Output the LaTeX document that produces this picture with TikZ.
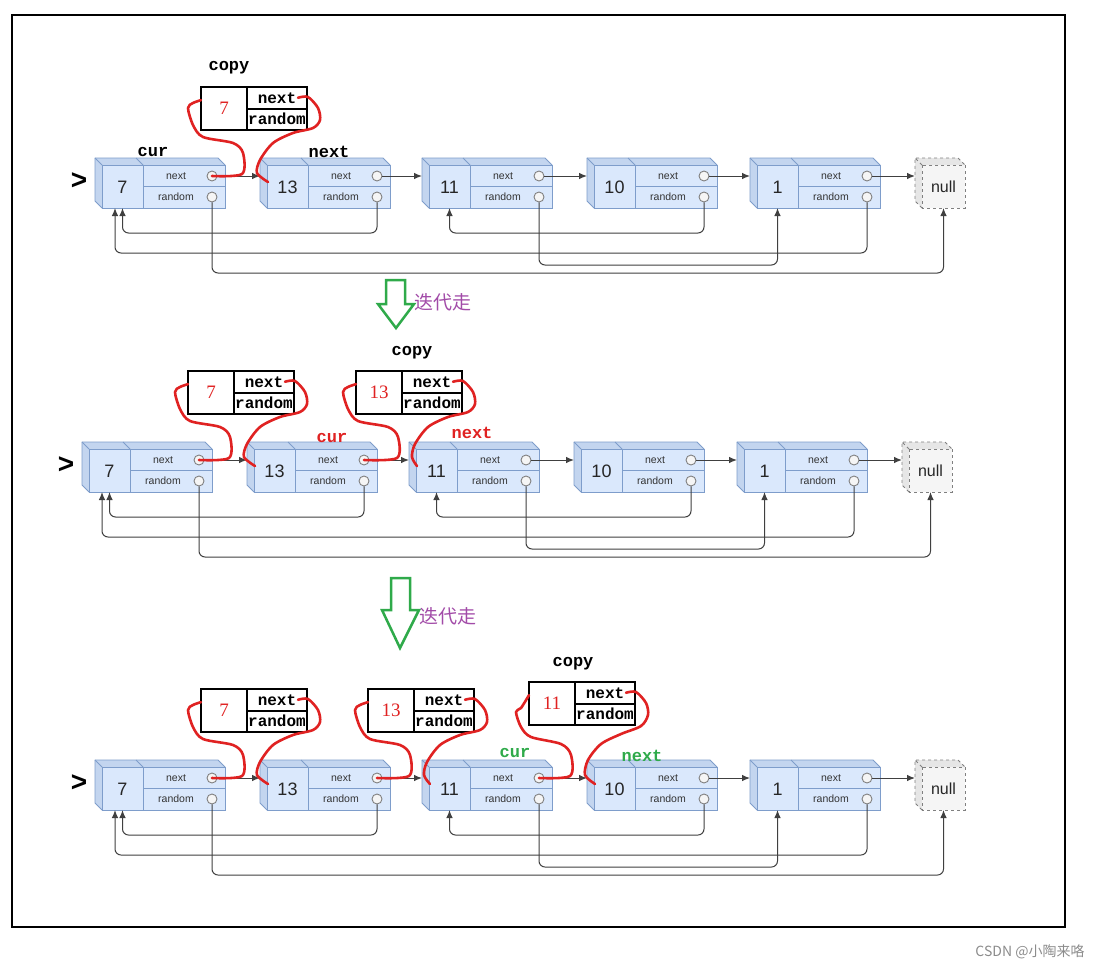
\documentclass[tikz,border=0pt]{standalone}
\usepackage{fontspec}
\setmainfont{Liberation Serif}
\setsansfont{Liberation Sans}
\setmonofont{Liberation Mono}
\newfontfamily\cjk{Noto Sans CJK SC}
\usetikzlibrary{positioning,arrows.meta}

\definecolor{cubefront}{HTML}{DAE8FC}
\definecolor{cubeside}{HTML}{C3D5EF}
\definecolor{cubeedge}{HTML}{7E9DCB}
\definecolor{nullfront}{HTML}{F5F5F5}
\definecolor{nullside}{HTML}{E6E6E6}
\definecolor{redpen}{HTML}{E02222}
\definecolor{greenpen}{HTML}{2FAA4A}
\definecolor{iterpurple}{HTML}{A24BA8}
\definecolor{ptrgray}{HTML}{404040}

\tikzset{
  pics/listnode/.style={code={
    \fill[cubeside] (0,0) -- (-7,-7) -- (116,-7) -- (123,0) -- cycle;
    \fill[cubeside] (0,0) -- (-7,-7) -- (-7,36) -- (0,43) -- cycle;
    \draw[cubeedge,line width=0.9pt,line join=round] (0,43) -- (-7,36) -- (-7,-7) -- (116,-7) -- (123,0);
    \draw[cubeedge,line width=0.9pt] (0,0) -- (-7,-7) (41,0) -- (34,-7);
    \draw[cubeedge,line width=0.9pt,fill=cubefront] (0,0) rectangle (123,43);
    \draw[cubeedge,line width=0.9pt] (41,0) -- (41,43) (41,21.5) -- (123,21.5);
    \node[valtext] (-v) at (20.5,22) {#1};
    \node[fieldtext] (-nt) at (74,11) {next};
    \node[fieldtext] (-rt) at (74,32) {random};
    \node[ptrdot] (-n) at (110,11) {};
    \node[ptrdot] (-r) at (110,32) {};
    \coordinate (-in) at (-7,11);
    \coordinate (-tip) at (1,17);
    \coordinate (-b) at (20.5,43);
    \coordinate (-bb) at (13,43);
  }},
  pics/nullnode/.style={code={
    \fill[nullside] (0,0) -- (-7,-7) -- (36,-7) -- (43,0) -- cycle;
    \fill[nullside] (0,0) -- (-7,-7) -- (-7,36) -- (0,43) -- cycle;
    \draw[gray,dashed,line width=0.9pt] (0,43) -- (-7,36) -- (-7,-7) -- (36,-7) -- (43,0) (0,0) -- (-7,-7);
    \draw[gray,dashed,line width=0.9pt,fill=nullfront] (0,0) rectangle (43,43);
    \node[valtext,font=\sffamily\fontsize{16}{16}\selectfont] (-v) at (21.5,22) {null};
    \coordinate (-in) at (-7,11);
    \coordinate (-b) at (21.5,43);
  }},
}

\begin{document}
\begin{tikzpicture}[x=1pt,y=-1pt,
    valtext/.style={font=\sffamily\fontsize{18}{18}\selectfont,text=black!85},
    fieldtext/.style={font=\sffamily\fontsize{10.5}{10.5}\selectfont,text=black!80},
    ptrdot/.style={circle,draw=gray,fill=gray!8,line width=0.9pt,minimum size=10pt,inner sep=0pt},
    ptr/.style={draw=ptrgray,line width=1pt,rounded corners=6pt,-{Latex[length=8pt,width=6.5pt]}},
    copyval/.style={draw,line width=2pt,minimum width=46pt,minimum height=43pt,inner sep=0pt,outer sep=0pt,
      text=redpen,font=\rmfamily\fontsize{19}{19}\selectfont},
    copyfld/.style={draw,line width=2pt,minimum width=60pt,minimum height=21.5pt,inner sep=0pt,outer sep=0pt,
      font=\ttfamily\bfseries\fontsize{16}{16}\selectfont},
    lbl/.style={font=\ttfamily\bfseries\fontsize{17}{17}\selectfont},
    redmark/.style={draw=redpen,line width=2.6pt,line cap=round,line join=round},
    iterarrow/.style={draw=greenpen,line width=2.5pt,line join=miter},
    iterlbl/.style={font=\cjk\fontsize{19}{19}\selectfont,text=iterpurple},
    headmark/.style={font=\sffamily\bfseries\fontsize{28}{28}\selectfont}]
  \fill[white] (0,0) rectangle (1114,970);
  \useasboundingbox (0,0) rectangle (1114,970);
  \draw[line width=2pt] (12,15) rectangle (1065,927);

  % first list
  \node[headmark] (h1) at (79,181) {>};
  \pic (r1a) at (102,165) {listnode=7};
  \pic (r1b) at (267,165) {listnode=13};
  \pic (r1c) at (429,165) {listnode=11};
  \pic (r1d) at (594,165) {listnode=10};
  \pic (r1e) at (757,165) {listnode=1};
  \pic (r1x) at (922,165) {nullnode};
  \draw[ptr] (r1a-n) -- (r1b-in);
  \draw[ptr] (r1b-n) -- (r1c-in);
  \draw[ptr] (r1c-n) -- (r1d-in);
  \draw[ptr] (r1d-n) -- (r1e-in);
  \draw[ptr] (r1e-n) -- (r1x-in);
  \draw[ptr] (r1b-r) -- ++(0,36) -| (r1a-b);
  \draw[ptr] (r1d-r) -- ++(0,36) -| (r1c-b);
  \draw[ptr] (r1e-r) -- ++(0,56) -| (r1a-bb);
  \draw[ptr] (r1c-r) -- ++(0,68) -| (r1e-b);
  \draw[ptr] (r1a-r) -- ++(0,76) -| (r1x-b);

  \node[lbl] (cp1) at (229,68) {copy};
  \node[lbl] (cur1) at (153,152) {cur};
  \node[lbl] (nx1) at (329,152) {next};
  \node[copyval] (c1a) at (224,108.5) {7};
  \node[copyfld,anchor=north west] (c1an) at (c1a.north east) {next};
  \node[copyfld,anchor=north west] (c1ar) at (c1an.south west) {random};
  \begin{scope}[shift={(201,87)}]
    \draw[redmark] plot[smooth] coordinates {(r1a-n.center) (41,87) (42,66) (32,56) (2,50) (-8,38) (-13,21) (-8,16) (c1a.160)};
    \draw[redmark] plot[smooth] coordinates {([xshift=-9pt]c1an.east) (107,10) (117,21) (119,33) (112,41) (92,46) (72,56) (59,73) (56,86) (r1b-tip)};
  \end{scope}

  \draw[iterarrow] (386,280) -- (405,280) -- (405,304) -- (414,304) -- (396,328) -- (378,304) -- (386,304) -- cycle;
  \node[iterlbl] (it1) at (443,302) {迭代走};

  % second list
  \node[headmark] (h2) at (66,465) {>};
  \pic (r2a) at (89,449) {listnode=7};
  \pic (r2b) at (254,449) {listnode=13};
  \pic (r2c) at (416,449) {listnode=11};
  \pic (r2d) at (581,449) {listnode=10};
  \pic (r2e) at (744,449) {listnode=1};
  \pic (r2x) at (909,449) {nullnode};
  \draw[ptr] (r2a-n) -- (r2b-in);
  \draw[ptr] (r2b-n) -- (r2c-in);
  \draw[ptr] (r2c-n) -- (r2d-in);
  \draw[ptr] (r2d-n) -- (r2e-in);
  \draw[ptr] (r2e-n) -- (r2x-in);
  \draw[ptr] (r2b-r) -- ++(0,36) -| (r2a-b);
  \draw[ptr] (r2d-r) -- ++(0,36) -| (r2c-b);
  \draw[ptr] (r2e-r) -- ++(0,56) -| (r2a-bb);
  \draw[ptr] (r2c-r) -- ++(0,68) -| (r2e-b);
  \draw[ptr] (r2a-r) -- ++(0,76) -| (r2x-b);

  \node[lbl] (cp2) at (412,353) {copy};
  \node[lbl,text=redpen] (cur2) at (332,438) {cur};
  \node[lbl,text=redpen] (nx2) at (472,433) {next};
  \node[copyval] (c2a) at (211,392.5) {7};
  \node[copyfld,anchor=north west] (c2an) at (c2a.north east) {next};
  \node[copyfld,anchor=north west] (c2ar) at (c2an.south west) {random};
  \node[copyval] (c2b) at (379,392.5) {13};
  \node[copyfld,anchor=north west] (c2bn) at (c2b.north east) {next};
  \node[copyfld,anchor=north west] (c2br) at (c2bn.south west) {random};
  \begin{scope}[shift={(188,371)}]
    \draw[redmark] plot[smooth] coordinates {(r2a-n.center) (41,87) (42,66) (32,56) (2,50) (-8,38) (-13,21) (-8,16) (c2a.160)};
    \draw[redmark] plot[smooth] coordinates {([xshift=-9pt]c2an.east) (107,10) (117,21) (119,33) (112,41) (92,46) (72,56) (59,73) (56,86) (r2b-tip)};
  \end{scope}
  \begin{scope}[shift={(356,371)}]
    \draw[redmark] plot[smooth] coordinates {(r2b-n.center) (41,87) (42,66) (32,56) (2,50) (-8,38) (-13,21) (-8,16) (c2b.160)};
    \draw[redmark] plot[smooth] coordinates {([xshift=-9pt]c2bn.east) (107,10) (117,21) (119,33) (112,41) (92,46) (72,56) (59,73) (56,86) (r2c-tip)};
  \end{scope}

  \draw[iterarrow] (391,578) -- (410,578) -- (410,610) -- (419,610) -- (400,648) -- (382,610) -- (391,610) -- cycle;
  \node[iterlbl] (it2) at (448,616) {迭代走};

  % third list
  \node[headmark] (h3) at (79,783) {>};
  \pic (r3a) at (102,767) {listnode=7};
  \pic (r3b) at (267,767) {listnode=13};
  \pic (r3c) at (429,767) {listnode=11};
  \pic (r3d) at (594,767) {listnode=10};
  \pic (r3e) at (757,767) {listnode=1};
  \pic (r3x) at (922,767) {nullnode};
  \draw[ptr] (r3a-n) -- (r3b-in);
  \draw[ptr] (r3b-n) -- (r3c-in);
  \draw[ptr] (r3c-n) -- (r3d-in);
  \draw[ptr] (r3d-n) -- (r3e-in);
  \draw[ptr] (r3e-n) -- (r3x-in);
  \draw[ptr] (r3b-r) -- ++(0,36) -| (r3a-b);
  \draw[ptr] (r3d-r) -- ++(0,36) -| (r3c-b);
  \draw[ptr] (r3e-r) -- ++(0,56) -| (r3a-bb);
  \draw[ptr] (r3c-r) -- ++(0,68) -| (r3e-b);
  \draw[ptr] (r3a-r) -- ++(0,76) -| (r3x-b);

  \node[lbl] (cp3) at (573,664) {copy};
  \node[lbl,text=greenpen] (cur3) at (515,753) {cur};
  \node[lbl,text=greenpen] (nx3) at (642,756) {next};
  \node[copyval] (c3a) at (224,710.5) {7};
  \node[copyfld,anchor=north west] (c3an) at (c3a.north east) {next};
  \node[copyfld,anchor=north west] (c3ar) at (c3an.south west) {random};
  \node[copyval] (c3b) at (391,710.5) {13};
  \node[copyfld,anchor=north west] (c3bn) at (c3b.north east) {next};
  \node[copyfld,anchor=north west] (c3br) at (c3bn.south west) {random};
  \node[copyval] (c3c) at (552,703.5) {11};
  \node[copyfld,anchor=north west] (c3cn) at (c3c.north east) {next};
  \node[copyfld,anchor=north west] (c3cr) at (c3cn.south west) {random};
  \begin{scope}[shift={(201,689)}]
    \draw[redmark] plot[smooth] coordinates {(r3a-n.center) (41,87) (42,66) (32,56) (2,50) (-8,38) (-13,21) (-8,16) (c3a.160)};
    \draw[redmark] plot[smooth] coordinates {([xshift=-9pt]c3an.east) (107,10) (117,21) (119,33) (112,41) (92,46) (72,56) (59,73) (56,86) (r3b-tip)};
  \end{scope}
  \begin{scope}[shift={(368,689)}]
    \draw[redmark] plot[smooth] coordinates {(r3b-n.center) (41,87) (42,66) (32,56) (2,50) (-8,38) (-13,21) (-8,16) (c3b.160)};
    \draw[redmark] plot[smooth] coordinates {([xshift=-9pt]c3bn.east) (107,10) (117,21) (119,33) (112,41) (92,46) (72,56) (59,73) (56,86) (r3c-tip)};
  \end{scope}
  \begin{scope}[shift={(529,682)}]
    \draw[redmark] plot[smooth] coordinates {(r3c-n.center) (41,94) (42,73) (32,62) (2,55) (-8,45) (-13,30) (-8,26) (c3c.160)};
    \draw[redmark] plot[smooth] coordinates {([xshift=-9pt]c3cn.east) (107,10) (117,21) (119,33) (112,44) (92,52) (72,62) (59,78) (56,93) (r3d-tip)};
  \end{scope}

  \node[font=\cjk\fontsize{14}{14}\selectfont,text=black!45] (mark) at (1030,952) {CSDN @小陶来咯};
\end{tikzpicture}
\end{document}
